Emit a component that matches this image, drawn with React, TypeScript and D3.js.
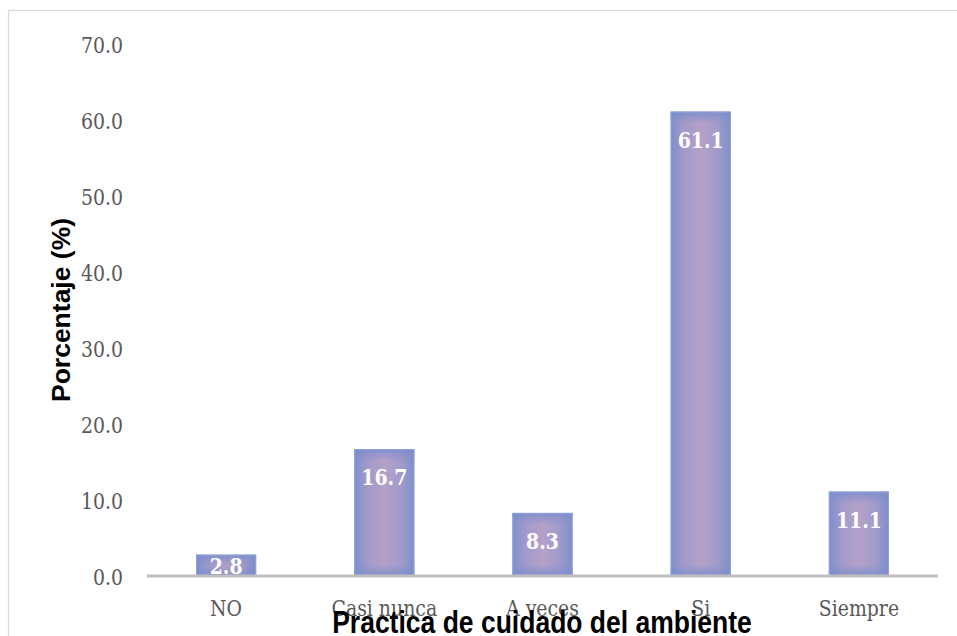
import React from "react";
import * as d3 from "d3";

const categories = ["NO", "Casi nunca", "A veces", "Si", "Siempre"];
const values = [2.8, 16.7, 8.3, 61.1, 11.1];
const yTicks = [0, 10, 20, 30, 40, 50, 60, 70];
const xTitle = "Practica de cuidado del ambiente";
const yTitle = "Porcentaje (%)";

const W = 957;
const H = 636;
const plot = { left: 147, right: 938, top: 44, bottom: 576 };
const serif = "'DejaVu Serif', serif";
const sans = "'Liberation Sans', Arial, sans-serif";

// serif text drawn slightly taller than wide
function SerifText(props: {
  x: number;
  y: number;
  anchor: string;
  fill: string;
  bold?: boolean;
  children: React.ReactNode;
}) {
  const sy = 1.1;
  return (
    <text
      transform={`translate(${props.x},${props.y}) scale(1,${sy})`}
      textAnchor={props.anchor}
      fontFamily={serif}
      fontWeight={props.bold ? "bold" : "normal"}
      fontSize={21}
      style={{ fontStretch: "condensed" }}
      fill={props.fill}
    >
      {props.children}
    </text>
  );
}

export default function App() {
  const x = d3
    .scaleBand<string>()
    .domain(categories)
    .range([plot.left, plot.right])
    .paddingInner(0.62)
    .paddingOuter(0.31);
  const y = d3.scaleLinear().domain([0, 70]).range([plot.bottom, plot.top]);
  const bw = x.bandwidth();

  return (
    <svg
      width={W}
      height={H}
      style={{ position: "absolute", left: 0, top: 0, background: "#fff" }}
    >
      <defs>
        <linearGradient id="barH" x1="0" x2="1" y1="0" y2="0">
          <stop offset="0%" stopColor="#7d8ecc" />
          <stop offset="22%" stopColor="#a29bca" />
          <stop offset="50%" stopColor="#b4a0c8" />
          <stop offset="78%" stopColor="#a29bca" />
          <stop offset="100%" stopColor="#7d8ecc" />
        </linearGradient>
        <linearGradient id="edgeTop" x1="0" x2="0" y1="0" y2="1">
          <stop offset="0%" stopColor="#7d8ecc" stopOpacity={0.9} />
          <stop offset="100%" stopColor="#7d8ecc" stopOpacity={0} />
        </linearGradient>
        <linearGradient id="edgeBottom" x1="0" x2="0" y1="1" y2="0">
          <stop offset="0%" stopColor="#7d8ecc" stopOpacity={0.9} />
          <stop offset="100%" stopColor="#7d8ecc" stopOpacity={0} />
        </linearGradient>
      </defs>

      {/* chart frame */}
      <rect x={8.5} y={10.5} width={W + 10} height={H + 10} fill="#fff" stroke="#d9d9d9" strokeWidth={1.2} />

      {/* y tick labels */}
      {yTicks.map((t) => (
        <SerifText key={t} x={123} y={y(t) + 9} anchor="end" fill="#595959">
          {t.toFixed(1)}
        </SerifText>
      ))}

      {/* bars */}
      {categories.map((c, i) => {
        const v = values[i];
        const x0 = x(c)!;
        const top = y(v);
        const h = plot.bottom - top;
        const edge = Math.min(12, h / 2);
        return (
          <g key={c}>
            <rect x={x0} y={top} width={bw} height={h} fill="url(#barH)" />
            <rect x={x0} y={top} width={bw} height={edge} fill="url(#edgeTop)" />
            <rect x={x0} y={plot.bottom - edge} width={bw} height={edge} fill="url(#edgeBottom)" />
            <rect x={x0 + 0.5} y={top + 0.5} width={bw - 1} height={h - 1} fill="none" stroke="#8ea2d8" strokeWidth={1} />
          </g>
        );
      })}

      {/* baseline */}
      <line x1={plot.left} x2={plot.right} y1={plot.bottom} y2={plot.bottom} stroke="#bfbfbf" strokeWidth={3} />

      {/* value labels */}
      {categories.map((c, i) => {
        const v = values[i];
        const cy = Math.min(y(v) + 28, plot.bottom - 10);
        return (
          <SerifText key={c} x={x(c)! + bw / 2} y={cy + 8} anchor="middle" fill="#fff" bold>
            {v.toFixed(1)}
          </SerifText>
        );
      })}

      {/* category labels */}
      {categories.map((c) => (
        <SerifText key={c} x={x(c)! + bw / 2} y={616} anchor="middle" fill="#595959">
          {c}
        </SerifText>
      ))}

      {/* axis titles */}
      <text
        transform="translate(542,633) scale(1,1.2)"
        textAnchor="middle"
        fontFamily={sans}
        fontWeight="bold"
        fontSize={26.5}
        fill="#000"
      >
        {xTitle}
      </text>
      <text
        transform="translate(70,310) rotate(-90)"
        textAnchor="middle"
        fontFamily={sans}
        fontWeight="bold"
        fontSize={26.5}
        fill="#000"
      >
        {yTitle}
      </text>
    </svg>
  );
}
